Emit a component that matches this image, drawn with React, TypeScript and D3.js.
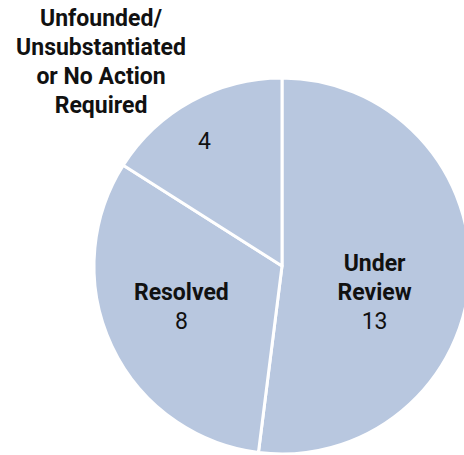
import { useEffect, useRef } from 'react';
import * as d3 from 'd3';

const categories = ['Under Review', 'Resolved', 'Unfounded/Unsubstantiated or No Action Required'];
const values = [13, 8, 4];
// label lines for each slice (name lines, then value)
const nameLines = [['Under', 'Review'], ['Resolved'], ['Unfounded/', 'Unsubstantiated', 'or No Action', 'Required']];

const WIDTH = 464;
const HEIGHT = 455;
const CX = 282;
const CY = 266;
const R = 188;
const FILL = '#b8c7df';
const LINE_H = 29;
const FS = 23;

interface Slice {
  name: string;
  value: number;
  lines: string[];
}

export default function App() {
  const svgRef = useRef<SVGSVGElement>(null);

  useEffect(() => {
    if (!svgRef.current) return;
    const data: Slice[] = categories.map((c, i) => ({ name: c, value: values[i], lines: nameLines[i] }));

    d3.select(svgRef.current).selectAll('*').remove();
    const svg = d3.select(svgRef.current).attr('width', WIDTH).attr('height', HEIGHT);
    const g = svg.append('g').attr('transform', `translate(${CX},${CY})`);

    const pie = d3.pie<Slice>().value((d) => d.value).sort(null);
    const arcs = pie(data);
    const arc = d3.arc<d3.PieArcDatum<Slice>>().innerRadius(0).outerRadius(R);

    g.selectAll('path.slice')
      .data(arcs)
      .join('path')
      .attr('class', 'slice')
      .attr('d', arc)
      .attr('fill', FILL)
      .attr('stroke', '#fff')
      .attr('stroke-width', 3)
      .attr('stroke-linejoin', 'round');

    const font = 'Roboto, "Noto Sans", sans-serif';

    // inside labels: name + value, centered at a fraction of the radius
    const inside = [
      { i: 0, k: 0.52, dx: -5, dy: 20 },
      { i: 1, k: 0.58, dx: -2, dy: -5 },
    ];
    inside.forEach(({ i, k, dx, dy }) => {
      const a = arcs[i];
      const [x, y] = d3.arc<d3.PieArcDatum<Slice>>().innerRadius(R * k).outerRadius(R * k).centroid(a);
      const lines = [...a.data.lines, String(a.data.value)];
      const top = y + dy - ((lines.length - 1) * LINE_H) / 2;
      const t = g.append('text').attr('text-anchor', 'middle').attr('font-family', font).attr('font-size', FS).attr('fill', '#111');
      lines.forEach((l, j) => {
        t.append('tspan')
          .attr('x', x + dx)
          .attr('y', top + j * LINE_H)
          .attr('dominant-baseline', 'central')
          .attr('font-weight', j < a.data.lines.length ? 700 : 400)
          .text(l);
      });
    });

    // small slice: value inside, name outside above
    const small = arcs[2];
    const [vx, vy] = d3.arc<d3.PieArcDatum<Slice>>().innerRadius(R * 0.78).outerRadius(R * 0.78).centroid(small);
    g.append('text')
      .attr('x', vx - 7)
      .attr('y', vy + 4)
      .attr('text-anchor', 'middle')
      .attr('dominant-baseline', 'central')
      .attr('font-family', font)
      .attr('font-size', FS)
      .attr('fill', '#111')
      .text(String(small.data.value));

    const ox = 101 - CX;
    const oy = 62 - CY;
    const outer = g.append('text').attr('text-anchor', 'middle').attr('font-family', font).attr('font-size', FS).attr('font-weight', 700).attr('fill', '#111');
    small.data.lines.forEach((l, j) => {
      outer
        .append('tspan')
        .attr('x', ox)
        .attr('y', oy - ((small.data.lines.length - 1) * LINE_H) / 2 + j * LINE_H)
        .attr('dominant-baseline', 'central')
        .text(l);
    });
  }, []);

  return <svg ref={svgRef} style={{ position: 'absolute', left: 0, top: 0, overflow: 'hidden' }} />;
}
